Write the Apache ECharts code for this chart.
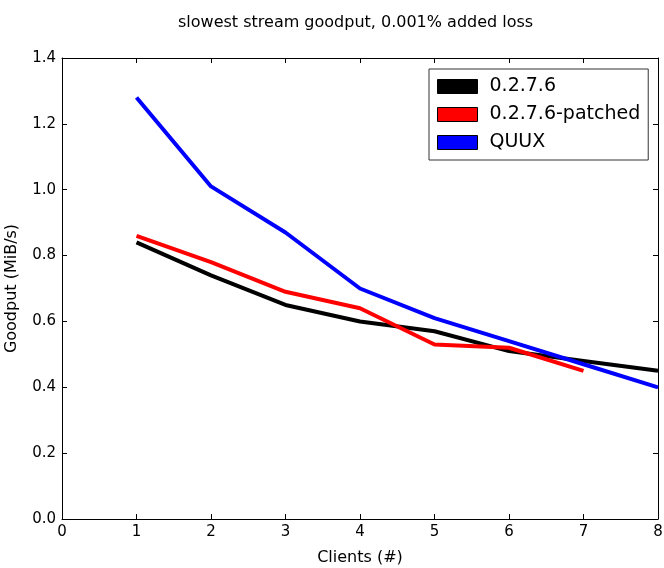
<!DOCTYPE html>
<html><head><meta charset="utf-8">
<script src="https://cdn.jsdelivr.net/npm/echarts@6/dist/echarts.min.js"></script>
<style>html,body{margin:0;padding:0;background:#fff}#c{width:664px;height:568px}</style>
</head><body><div id="c"></div>
<script>
var clients = [1, 2, 3, 4, 5, 6, 7, 8];
var s0276 = [0.84, 0.74, 0.65, 0.60, 0.57, 0.51, 0.48, 0.45];
var s0276patched = [0.86, 0.78, 0.69, 0.64, 0.53, 0.52, 0.45];
var quux = [1.28, 1.01, 0.87, 0.70, 0.61, 0.54, 0.47, 0.40];
var seriesNames = ['0.2.7.6', '0.2.7.6-patched', 'QUUX'];
var seriesColors = ['#000000', '#ff0000', '#0000ff'];
var seriesData = [s0276, s0276patched, quux];

var FONT = 'DejaVu Sans';
var chart = echarts.init(document.getElementById('c'), null, {renderer: 'canvas'});
var axisCommon = {
  axisLine: {show: true, onZero: false, lineStyle: {color: '#000', width: 1}},
  axisTick: {show: true, inside: true, length: 5, lineStyle: {color: '#000'}},
  splitLine: {show: false}
};
var series = seriesData.map(function (vals, i) {
  return {
    name: seriesNames[i], type: 'line',
    data: vals.map(function (v, j) { return [clients[j], v]; }),
    showSymbol: false, symbol: 'none',
    lineStyle: {color: seriesColors[i], width: 4},
    itemStyle: {color: seriesColors[i], borderColor: '#000', borderWidth: 1},
    animation: false
  };
});
chart.setOption({
  animation: false,
  title: {text: 'slowest stream goodput, 0.001% added loss', left: 173, top: 10,
    textStyle: {fontFamily: FONT, fontSize: 16, fontWeight: 'normal', color: '#000'}},
  grid: {left: 62, right: 6, top: 58, bottom: 49, containLabel: false, outerBoundsMode: 'none'},
  legend: {
    data: seriesNames, orient: 'vertical', left: 429, top: 69,
    icon: 'rect', itemWidth: 40, itemHeight: 14, itemGap: 9,
    borderColor: '#333', borderWidth: 1, padding: [8, 8, 8, 8],
    backgroundColor: '#fff',
    textStyle: {fontFamily: FONT, fontSize: 19, color: '#000', padding: [0, 0, 0, 7]},
    itemStyle: {borderColor: '#000', borderWidth: 1}
  },
  xAxis: [
    Object.assign({type: 'value', min: 0, max: 8, interval: 1, position: 'bottom',
      name: 'Clients (#)', nameLocation: 'middle', nameGap: 31,
      nameTextStyle: {fontFamily: FONT, fontSize: 16, color: '#000'},
      axisLabel: {fontFamily: FONT, fontSize: 15, color: '#000', margin: 6}}, axisCommon),
    Object.assign({type: 'value', min: 0, max: 8, interval: 1, position: 'top',
      axisLabel: {show: false}}, axisCommon)
  ],
  yAxis: [
    Object.assign({type: 'value', min: 0, max: 1.4, interval: 0.2, position: 'left',
      name: 'Goodput (MiB/s)', nameLocation: 'middle', nameGap: 42,
      nameTextStyle: {fontFamily: FONT, fontSize: 16, color: '#000'},
      axisLabel: {fontFamily: FONT, fontSize: 15, color: '#000', margin: 6,
        formatter: function (v) { return v.toFixed(1); }}}, axisCommon),
    Object.assign({type: 'value', min: 0, max: 1.4, interval: 0.2, position: 'right',
      axisLabel: {show: false}}, axisCommon)
  ],
  series: series
});
</script></body></html>
